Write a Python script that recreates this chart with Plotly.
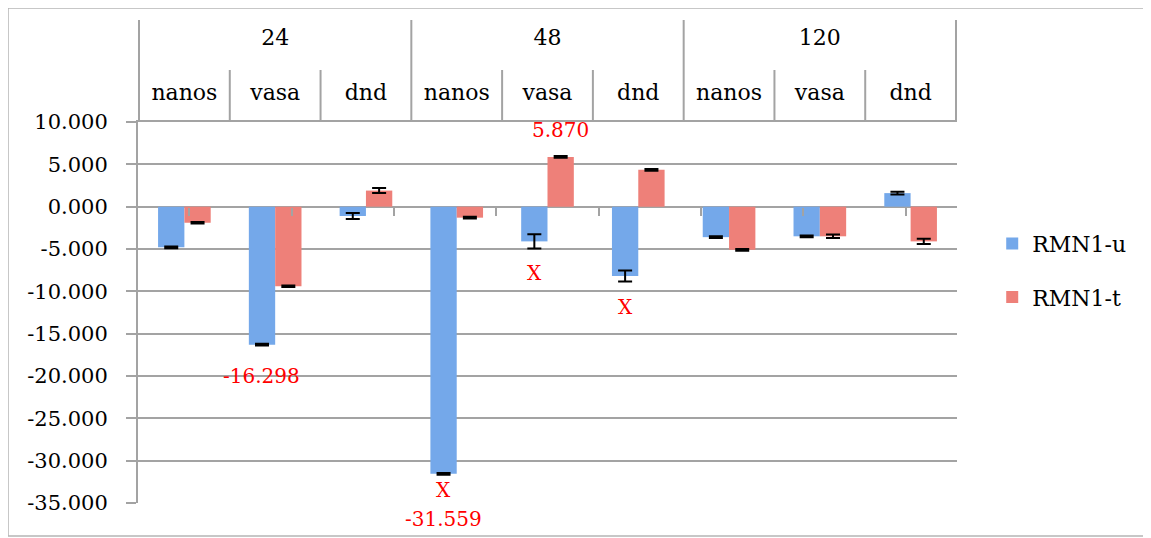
import plotly.graph_objects as go

# categorias (tempo / amostra)
grupos = ["24", "24", "24", "48", "48", "48", "120", "120", "120"]
amostras = ["nanos", "vasa", "dnd", "nanos", "vasa", "dnd", "nanos", "vasa", "dnd"]

# series
rmn1_u = [-4.8, -16.298, -1.1, -31.559, -4.1, -8.2, -3.6, -3.5, 1.6]
rmn1_u_err = [0.1, 0.1, 0.35, 0.1, 0.85, 0.65, 0.1, 0.1, 0.15]
rmn1_t = [-1.9, -9.4, 1.9, -1.3, 5.870, 4.35, -5.1, -3.5, -4.1]
rmn1_t_err = [0.1, 0.1, 0.3, 0.1, 0.1, 0.1, 0.1, 0.2, 0.3]

y_ticks = [10, 5, 0, -5, -10, -15, -20, -25, -30, -35]
y_ticktext = ["%.3f" % v for v in y_ticks]

# rotulos em vermelho: (indice categoria, serie, y, deslocamento px, texto)
rotulos = [
    (1, "u", -20.0, 0, "-16.298"),
    (4, "t", 9.1, 0, "5.870"),
    (4, "u", -7.8, 0, "X"),
    (5, "u", -11.9, 0, "X"),
    (3, "u", -33.5, 0, "X"),
    (3, "u", -33.5, -29, "-31.559"),
]

W, H = 1151, 538
ML, MR, MT, MB = 130, 202, 114, 43
FONTE = "DejaVu Serif"
CINZA = "#a3a3a3"
BARGAP = 0.42


def rotulo(t):
    return "<span style='font-size:22px'>%s</span>" % t


# rótulo do grupo com linha extra para afastar da linha das amostras
grupos_txt = [rotulo(g) + "<br> " for g in grupos]
amostras_txt = [rotulo(a) for a in amostras]

fig = go.Figure()
fig.add_trace(go.Bar(x=[grupos_txt, amostras_txt], y=rmn1_u, name="RMN1-u",
                     marker_color="#74a8ea", marker_line_width=0,
                     legendgroup="u",
                     error_y=dict(type="data", array=rmn1_u_err, color="black",
                                  thickness=2, width=7)))
fig.add_trace(go.Bar(x=[grupos_txt, amostras_txt], y=rmn1_t, name="RMN1-t",
                     marker_color="#ee8079", marker_line_width=0,
                     legendgroup="t",
                     error_y=dict(type="data", array=rmn1_t_err, color="black",
                                  thickness=2, width=7)))
# eixo auxiliar só para os tracinhos no zero
fig.add_trace(go.Scatter(x=[grupos_txt, amostras_txt], y=[0] * 9, xaxis="x2",
                         mode="none", showlegend=False, hoverinfo="skip"))

pw = W - ML - MR
ph = H - MT - MB
largura_barra = (pw / len(amostras)) * (1 - BARGAP) / 2
for idx, serie, yv, dy, txt in rotulos:
    fig.add_annotation(x=idx, y=yv, xref="x", yref="y", text=txt, showarrow=False,
                       xshift=(-1 if serie == "u" else 1) * largura_barra / 2,
                       yshift=dy,
                       font=dict(family=FONTE, size=20, color="#ff0000"))

# linhas verticais do cabeçalho (amostras: 52 px, grupos: até o topo)
for i in range(-1, len(amostras)):
    fim_grupo = i < 0 or i == len(amostras) - 1 or grupos[i] != grupos[i + 1]
    altura = (MT - 12) if fim_grupo else 52
    fig.add_shape(type="line", xref="x", yref="paper", x0=i + 0.5, x1=i + 0.5,
                  y0=1, y1=1 + altura / ph, line=dict(color=CINZA, width=2))

# moldura
fig.add_shape(type="rect", xref="paper", yref="paper",
              x0=(0 - ML) / pw, x1=(1139 - ML) / pw,
              y0=-(528 - (H - MB)) / ph, y1=(H - MB) / ph,
              line=dict(color="#b5b5b5", width=1.5))

fig.update_layout(
    width=W, height=H,
    margin=dict(l=ML, r=MR, t=MT, b=MB),
    paper_bgcolor="white", plot_bgcolor="white",
    font=dict(family=FONTE, size=22, color="black"),
    barmode="group", bargap=BARGAP, bargroupgap=0,
    legend=dict(x=1.043, xanchor="left", y=0.61, yanchor="middle",
                traceorder="grouped", tracegroupgap=22,
                font=dict(family=FONTE, size=22)),
    xaxis=dict(type="multicategory", side="top", showline=True, linecolor=CINZA,
               linewidth=2, showdividers=False,
               ticks="", showgrid=False, ticklabelstandoff=9,
               tickfont=dict(family=FONTE, size=28, color="black")),
    xaxis2=dict(type="multicategory", overlaying="x", anchor="free",
                position=35 / 45, side="bottom", ticks="outside", tickson="boundaries",
                ticklen=8, tickwidth=2, tickcolor=CINZA, showticklabels=False,
                showdividers=False, showline=False, showgrid=False),
    yaxis=dict(range=[-35, 10], tickvals=y_ticks, ticktext=y_ticktext,
               showgrid=True, gridcolor=CINZA, gridwidth=2,
               zeroline=True, zerolinecolor=CINZA, zerolinewidth=2,
               showline=True, linecolor=CINZA, linewidth=2,
               ticks="outside", ticklen=10, tickwidth=2, tickcolor=CINZA,
               ticklabelstandoff=14,
               tickfont=dict(family=FONTE, size=21, color="black")),
)

fig.write_html("out.html")
